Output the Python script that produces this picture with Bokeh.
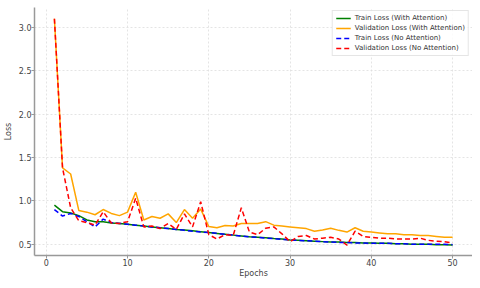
from bokeh.plotting import figure
from bokeh.models import Range1d, Legend, LegendItem, FixedTicker, NumeralTickFormatter
from bokeh.embed import file_html
from bokeh.resources import INLINE

epochs = list(range(1, 51))

train_att = [0.95, 0.875, 0.86, 0.83, 0.78, 0.76, 0.76, 0.745, 0.74, 0.73,
             0.72, 0.71, 0.70, 0.69, 0.68, 0.67, 0.665, 0.655, 0.645, 0.635,
             0.625, 0.615, 0.605, 0.595, 0.585, 0.58, 0.575, 0.565, 0.56, 0.55,
             0.545, 0.54, 0.535, 0.53, 0.525, 0.525, 0.52, 0.52, 0.515, 0.515,
             0.51, 0.51, 0.505, 0.505, 0.50, 0.50, 0.50, 0.495, 0.495, 0.49]

val_att = [3.10, 1.38, 1.31, 0.89, 0.87, 0.84, 0.90, 0.855, 0.83, 0.87,
           1.10, 0.78, 0.82, 0.80, 0.85, 0.75, 0.90, 0.80, 0.905, 0.705,
           0.69, 0.715, 0.71, 0.74, 0.74, 0.74, 0.76, 0.72, 0.71, 0.70,
           0.69, 0.68, 0.65, 0.665, 0.685, 0.66, 0.64, 0.69, 0.65, 0.64,
           0.63, 0.62, 0.62, 0.61, 0.61, 0.60, 0.60, 0.59, 0.58, 0.58]

train_noatt = [0.90, 0.825, 0.855, 0.82, 0.76, 0.70, 0.79, 0.75, 0.74, 0.73,
               0.72, 0.71, 0.70, 0.69, 0.68, 0.67, 0.66, 0.65, 0.64, 0.635,
               0.625, 0.615, 0.605, 0.595, 0.585, 0.58, 0.57, 0.565, 0.555, 0.55,
               0.545, 0.54, 0.535, 0.53, 0.525, 0.52, 0.52, 0.515, 0.515, 0.51,
               0.51, 0.51, 0.505, 0.505, 0.50, 0.50, 0.50, 0.50, 0.50, 0.495]

val_noatt = [3.10, 1.38, 0.92, 0.77, 0.75, 0.72, 0.875, 0.745, 0.74, 0.76,
             1.03, 0.70, 0.71, 0.68, 0.74, 0.67, 0.85, 0.70, 0.99, 0.61,
             0.56, 0.61, 0.60, 0.92, 0.64, 0.61, 0.685, 0.70, 0.62, 0.53,
             0.59, 0.60, 0.56, 0.57, 0.58, 0.56, 0.49, 0.65, 0.59, 0.58,
             0.57, 0.57, 0.56, 0.56, 0.56, 0.57, 0.545, 0.535, 0.53, 0.515]

x_ticks = [0, 10, 20, 30, 40, 50]
y_ticks = [0.5, 1.0, 1.5, 2.0, 2.5, 3.0]

p = figure(width=472, height=280, output_backend="svg", toolbar_location=None,
           x_range=Range1d(-1.45, 52.45), y_range=Range1d(0.37, 3.23),
           min_border_left=33, min_border_right=0, min_border_top=7,
           min_border_bottom=21)
p.outline_line_color = None
p.background_fill_color = "white"

font = "DejaVu Sans"
for ax in (p.xaxis[0], p.yaxis[0]):
    ax.axis_line_color = "#999999"
    ax.axis_line_width = 1.5
    ax.major_tick_line_color = "#999999"
    ax.major_tick_out = 3
    ax.major_tick_in = 0
    ax.minor_tick_line_color = None
    ax.major_label_text_font = font
    ax.major_label_text_font_size = "8px"
    ax.major_label_text_color = "#444444"
    ax.axis_label_text_font = font
    ax.axis_label_text_font_size = "8px"
    ax.axis_label_text_font_style = "normal"
    ax.axis_label_text_color = "#444444"
    ax.major_label_standoff = 0
    ax.axis_label_standoff = 0

p.yaxis.axis_label_standoff = 3
p.xaxis.ticker = FixedTicker(ticks=x_ticks)
p.yaxis.ticker = FixedTicker(ticks=y_ticks)
p.yaxis.formatter = NumeralTickFormatter(format="0.0")
p.xaxis.axis_label = "Epochs"
p.yaxis.axis_label = "Loss"

p.grid.grid_line_color = "#dddddd"
p.grid.grid_line_dash = "2 2"
p.grid.grid_line_width = 0.8

r1 = p.line(epochs, train_att, line_color="green", line_width=1.5)
r2 = p.line(epochs, val_att, line_color="orange", line_width=1.5)
r3 = p.line(epochs, train_noatt, line_color="blue", line_width=1.5, line_dash="5 3")
r4 = p.line(epochs, val_noatt, line_color="red", line_width=1.5, line_dash="5 3")

legend = Legend(items=[
    LegendItem(label="Train Loss (With Attention)", renderers=[r1]),
    LegendItem(label="Validation Loss (With Attention)", renderers=[r2]),
    LegendItem(label="Train Loss (No Attention)", renderers=[r3]),
    LegendItem(label="Validation Loss (No Attention)", renderers=[r4]),
], location="top_right")
legend.label_text_font = font
legend.label_text_font_size = "7px"
legend.label_text_color = "#333333"
legend.label_height = 8
legend.label_standoff = 4
legend.glyph_height = 8
legend.glyph_width = 15
legend.spacing = 2
legend.padding = 3
legend.margin = 3
legend.border_line_color = "#cccccc"
legend.border_line_width = 1
legend.background_fill_alpha = 0.85
p.add_layout(legend)

open("out.html", "w").write(file_html(p, INLINE))
